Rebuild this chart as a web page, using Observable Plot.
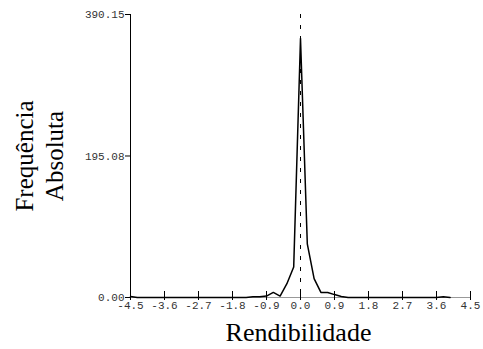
<!DOCTYPE html>
<html>
<head>
<meta charset="utf-8">
<script src="https://cdn.jsdelivr.net/npm/d3@7"></script>
<script src="https://cdn.jsdelivr.net/npm/@observablehq/plot@0.6"></script>
<style>
  html, body { margin: 0; padding: 0; background: #fff; }
  #chart { width: 483px; height: 349px; }
  #chart g[aria-label="x-axis tick label"],
  #chart g[aria-label="y-axis tick label"],
  #chart g[aria-label="x-axis tick label"] text,
  #chart g[aria-label="y-axis tick label"] text { font-family: "Liberation Mono", "Courier New", "DejaVu Sans Mono", monospace !important; }
  #chart g[aria-label="text"],
  #chart g[aria-label="text"] text { font-family: "Liberation Serif", "Times New Roman", "DejaVu Serif", serif !important; }
</style>
</head>
<body>
<div id="chart"></div>
<script>
// Bin positions (Rendibilidade) and absolute frequencies
const retornos = [
  -4.5, -4.32, -4.14, -3.96, -3.78, -3.6, -3.42, -3.24, -3.06, -2.88,
  -2.7, -2.52, -2.34, -2.16, -1.98, -1.8, -1.62, -1.44, -1.26, -1.08,
  -0.9, -0.72, -0.54, -0.36, -0.18, 0.0, 0.18, 0.36, 0.54, 0.72,
  0.9, 1.08, 1.26, 1.44, 1.62, 1.8, 1.98, 2.16, 2.34, 2.52,
  2.7, 2.88, 3.06, 3.24, 3.42, 3.6, 3.78, 3.96
];
const frequencias = [
  1.5, 0, 0, 0, 0, 0, 0, 0, 0, 0,
  0, 0, 0, 0, 0, 0, 0, 0, 1, 1,
  2, 7, 2, 19, 42, 357, 74, 26, 7, 7,
  4, 1.5, 0, 0, 0, 0, 0, 0, 0, 0,
  0, 0, 0, 0, 0, 0, 1, 0
];
const xTicks = [-4.5, -3.6, -2.7, -1.8, -0.9, 0.0, 0.9, 1.8, 2.7, 3.6, 4.5];
const yTicks = [0, 195.08, 390.15];
const xDomain = [-4.5, 4.5];
const yDomain = [0, 390.15];
const xTitle = "Rendibilidade";
const yTitle = "Frequência\nAbsoluta";

const data = retornos.map((r, i) => ({r, f: frequencias[i]}));
const mono = "Liberation Mono";
const serif = "Liberation Serif";

const chart = Plot.plot({
  width: 483,
  height: 349,
  marginLeft: 130,
  marginRight: 13,
  marginTop: 14,
  marginBottom: 52,
  style: {background: "#fff", overflow: "visible"},
  x: {domain: xDomain, label: null},
  y: {domain: yDomain, label: null},
  marks: [
    Plot.ruleY([0], {stroke: "#999", strokeWidth: 1}),
    Plot.ruleX([xDomain[0]], {stroke: "#000", strokeWidth: 1}),
    Plot.ruleX([0], {stroke: "#000", strokeWidth: 1, strokeDasharray: "4,7"}),
    Plot.axisY(yTicks, {
      tickSize: 5, tickPadding: 1, tickFormat: d => d.toFixed(2),
      fontFamily: mono, fontSize: 11, fill: "#333", stroke: "#000", label: null
    }),
    Plot.axisX(xTicks, {
      tickSize: 3, tickPadding: 1, tickFormat: d => d.toFixed(1),
      fontFamily: mono, fontSize: 11, fill: "#333", stroke: "#000", label: null
    }),
    Plot.ruleX(xTicks, {x: d => d, y1: 0, y2: 0, insetTop: 0, insetBottom: 6, stroke: "#000"}),
    Plot.line(data, {x: "r", y: "f", stroke: "#000", strokeWidth: 1.5}),
    Plot.text([xTitle], {
      frameAnchor: "bottom", dx: -2, dy: 35, lineAnchor: "middle",
      fontFamily: serif, fontSize: 26, fill: "#000"
    }),
    Plot.text([yTitle], {
      frameAnchor: "left", dx: -92, rotate: -90, lineAnchor: "middle", textAnchor: "middle",
      lineHeight: 1.2, fontFamily: serif, fontSize: 25, fill: "#000"
    })
  ]
});
document.getElementById("chart").appendChild(chart);
</script>
</body>
</html>
